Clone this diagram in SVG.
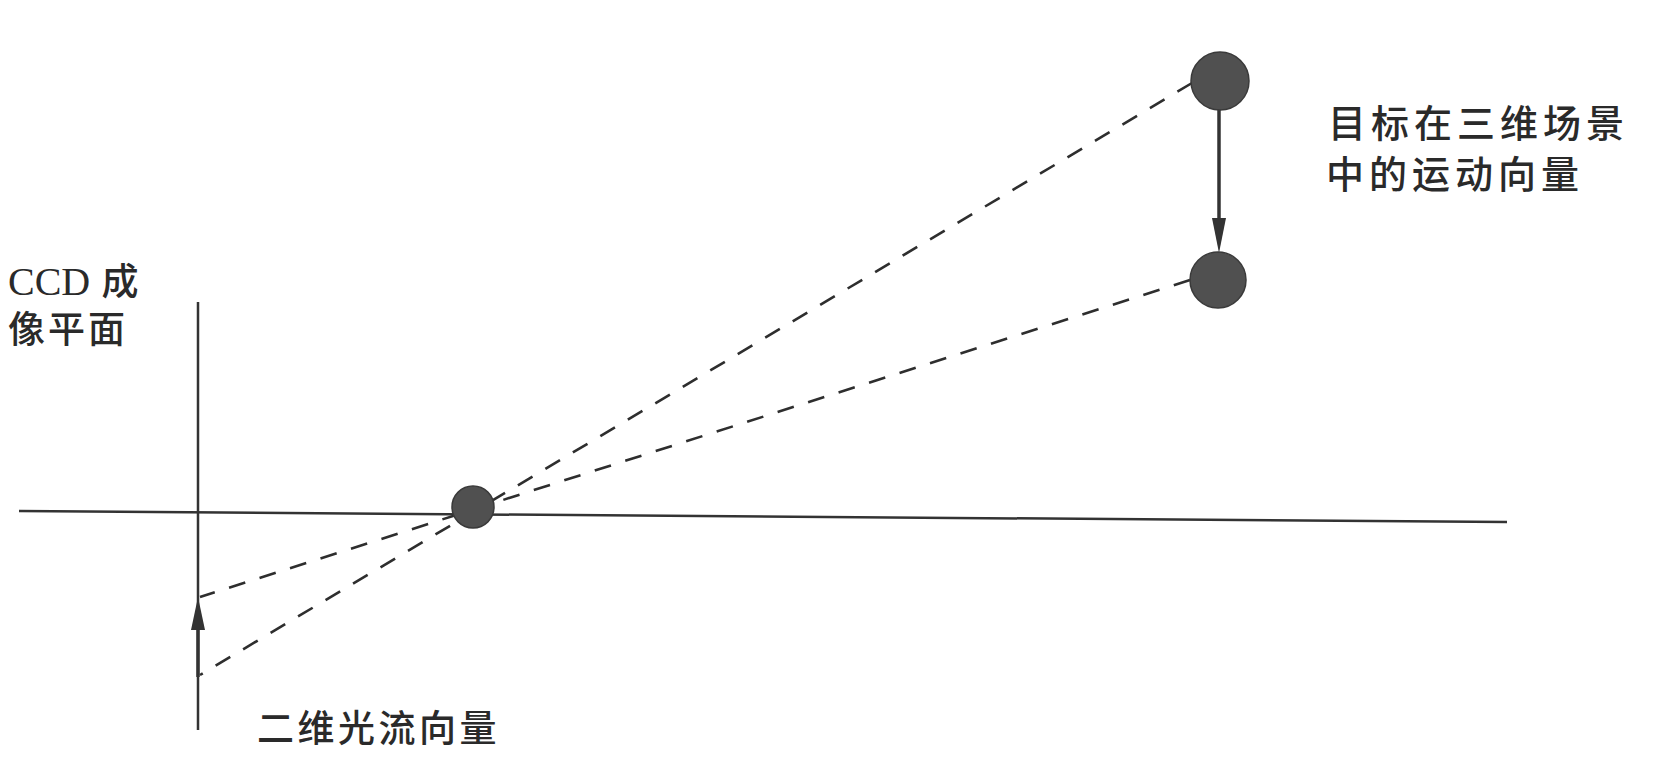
<svg xmlns="http://www.w3.org/2000/svg" width="1658" height="759" viewBox="0 0 1658 759">
<style>
.axis{stroke:#333;stroke-width:2.5;fill:none}
.ray{stroke:#2e2e2e;stroke-width:2.6;fill:none;stroke-dasharray:17 15}
.vec{stroke:#333;stroke-width:3.5;fill:none}
.head{fill:#333}
.ball{fill:#505050;stroke:#3a3a3a;stroke-width:1.5}
.lbl{font-family:"Noto Sans CJK SC","Noto Sans",sans-serif;font-size:38px;font-weight:500;fill:#2a2a2a;letter-spacing:5px}
.ser{font-family:"Liberation Serif","Noto Sans CJK SC",serif;font-weight:400;letter-spacing:0}
</style>
<rect width="1658" height="759" fill="#fff"/>
<g id="connectors">
<line class="axis" x1="19" y1="511" x2="1507" y2="522"/>
<line class="axis" x1="198" y1="302" x2="198" y2="730"/>
<line class="ray" x1="1192" y1="83" x2="200" y2="675"/>
<line class="ray" x1="1190" y1="280" x2="200" y2="597"/>
<line class="vec" x1="1219" y1="108" x2="1219" y2="222"/>
<polygon class="head" points="1212,218 1226,218 1219,253"/>
<line class="vec" x1="198" y1="626" x2="198" y2="677"/>
<polygon class="head" points="191,630 205,630 198,597"/>
</g>
<g id="lens"><circle class="ball" cx="473" cy="507" r="21"/></g>
<g id="target-top"><circle class="ball" cx="1220" cy="81" r="29"/></g>
<g id="target-bottom"><circle class="ball" cx="1218" cy="280" r="28"/></g>
<g id="label-ccd">
<text class="lbl" x="8" y="295" style="letter-spacing:3px;font-size:37px"><tspan class="ser" font-size="40">CCD</tspan> 成</text>
<text class="lbl" x="8" y="343" style="letter-spacing:3px;font-size:37px">像平面</text>
</g>
<g id="label-3d">
<text class="lbl" x="1328" y="137">目标在三维场景</text>
<text class="lbl" x="1326" y="188">中的运动向量</text>
</g>
<g id="label-2d">
<text class="lbl" x="257" y="742" style="letter-spacing:3.5px;font-size:37px">二维光流向量</text>
</g>
</svg>
